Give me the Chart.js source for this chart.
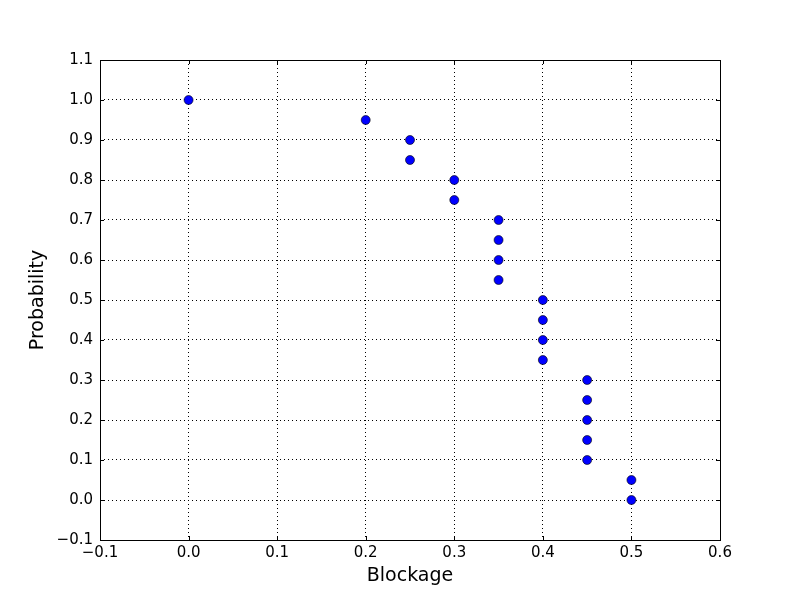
<!DOCTYPE html>
<html>
<head>
<meta charset="utf-8">
<script src="https://cdn.jsdelivr.net/npm/chart.js@4/dist/chart.umd.min.js"></script>
<style>
  html, body { margin: 0; padding: 0; background: #fff; }
  #wrap { width: 800px; height: 600px; }
</style>
</head>
<body>
<div id="wrap"><canvas id="chart" width="800" height="600"></canvas></div>
<script>
// blockage vs probability
const blockage = [0.0, 0.2, 0.25, 0.25, 0.3, 0.3, 0.35, 0.35, 0.35, 0.35,
                  0.4, 0.4, 0.4, 0.4, 0.45, 0.45, 0.45, 0.45, 0.45, 0.5, 0.5];
const probability = [1.0, 0.95, 0.9, 0.85, 0.8, 0.75, 0.7, 0.65, 0.6, 0.55,
                     0.5, 0.45, 0.4, 0.35, 0.3, 0.25, 0.2, 0.15, 0.1, 0.05, 0.0];
const xRange = [-0.1, 0.6];
const yRange = [-0.1, 1.1];

const points = blockage.map((b, i) => ({ x: b, y: probability[i] }));

const fmt = v => {
  let s = Number(v).toFixed(1);
  if (s === "-0.0") s = "0.0";
  return s.replace("-", "\u2212");
};

// frame + inward tick marks, like matplotlib classic
const frame = {
  id: "frame",
  afterDraw(chart) {
    const { ctx, chartArea: a, scales } = chart;
    ctx.save();
    ctx.strokeStyle = "#000";
    ctx.lineWidth = 1;
    ctx.beginPath();
    scales.x.ticks.forEach(t => {
      const px = Math.round(scales.x.getPixelForValue(t.value)) + 0.5;
      ctx.moveTo(px, a.bottom); ctx.lineTo(px, a.bottom - 4);
      ctx.moveTo(px, a.top); ctx.lineTo(px, a.top + 4);
    });
    scales.y.ticks.forEach(t => {
      const py = Math.round(scales.y.getPixelForValue(t.value)) + 0.5;
      ctx.moveTo(a.left, py); ctx.lineTo(a.left + 4, py);
      ctx.moveTo(a.right, py); ctx.lineTo(a.right - 4, py);
    });
    ctx.stroke();
    ctx.strokeRect(a.left + 0.5, a.top + 0.5, a.right - a.left, a.bottom - a.top);
    ctx.restore();
  }
};

new Chart(document.getElementById("chart"), {
  type: "scatter",
  data: {
    datasets: [{
      data: points,
      backgroundColor: "#0000ff",
      borderColor: "#000",
      borderWidth: 0.6,
      pointRadius: 4.5,
      pointHoverRadius: 4.5
    }]
  },
  options: {
    responsive: false,
    animation: false,
    events: [],
    layout: { padding: { top: 60, right: 80, left: 0, bottom: 0 } },
    plugins: { legend: { display: false }, tooltip: { enabled: false } },
    scales: {
      x: {
        type: "linear",
        min: xRange[0], max: xRange[1],
        afterFit(s) { s.height = 60; },
        ticks: {
          stepSize: 0.1, color: "#000", padding: 4,
          font: { family: "DejaVu Sans", size: 15 },
          callback: fmt
        },
        grid: { color: "#000", lineWidth: 1, drawTicks: false },
        border: { display: false, dash: [1, 3] },
        title: {
          display: true, text: "Blockage", color: "#000",
          font: { family: "DejaVu Sans", size: 19 }, padding: { top: 0, bottom: 13 }
        }
      },
      y: {
        type: "linear",
        min: yRange[0], max: yRange[1],
        afterFit(s) { s.width = 100; },
        ticks: {
          stepSize: 0.1, color: "#000", padding: 7,
          font: { family: "DejaVu Sans", size: 15 },
          callback: fmt
        },
        grid: { color: "#000", lineWidth: 1, drawTicks: false },
        border: { display: false, dash: [1, 3] },
        title: {
          display: true, text: "Probability", color: "#000",
          font: { family: "DejaVu Sans", size: 19 }, padding: { top: 27, bottom: 0 }
        }
      }
    }
  },
  plugins: [frame]
});
</script>
</body>
</html>
